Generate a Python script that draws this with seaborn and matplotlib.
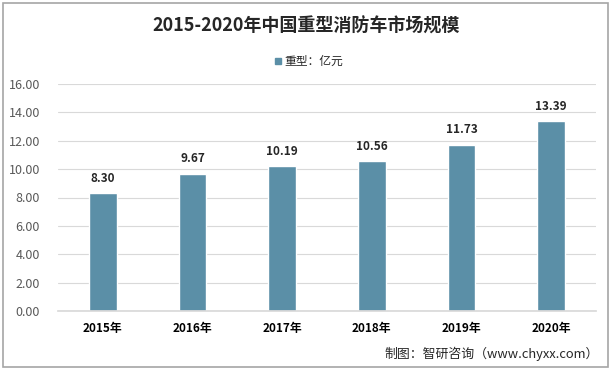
import numpy as np
import pandas as pd
import matplotlib
matplotlib.use("Agg")
import matplotlib.pyplot as plt
import seaborn as sns
from matplotlib.patches import Rectangle

# data
years = ["2015年", "2016年", "2017年", "2018年", "2019年", "2020年"]
values = [8.30, 9.67, 10.19, 10.56, 11.73, 13.39]
series_name = "重型：亿元"
title = "2015-2020年中国重型消防车市场规模"
source = "制图：智研咨询（www.chyxx.com）"

sns.set_theme(style="white")
plt.rcParams['font.family'] = ['Noto Sans CJK SC', 'DejaVu Sans']

df = pd.DataFrame({"year": years, "value": values})
bar_color = "#5b8fa7"

fig = plt.figure(figsize=(6.13, 3.69), dpi=100)
ax = fig.add_axes([58 / 613, 1 - 311 / 369, (596 - 58) / 613, (311 - 84) / 369])

sns.barplot(data=df, x="year", y="value", color=bar_color, width=0.31,
            saturation=1, ax=ax)

ax.set_ylim(0, 16)
ax.set_yticks(np.arange(0, 17, 2))
ax.set_yticklabels([f"{v:.2f}" for v in np.arange(0, 17, 2)], color="#595959", fontsize=9)
ax.set_xlabel("")
ax.set_ylabel("")
ax.yaxis.grid(True, color="#d9d9d9", linewidth=0.8)
ax.set_axisbelow(True)
for s in ["top", "right", "left"]:
    ax.spines[s].set_visible(False)
ax.spines["bottom"].set_color("#d9d9d9")
ax.tick_params(axis="y", length=0, pad=13)
ax.tick_params(axis="x", length=0, pad=8)
for lab in ax.get_xticklabels():
    lab.set_fontweight("bold")
    lab.set_fontsize(8.5)
    lab.set_color("black")

# value labels
for p, v in zip(ax.patches, values):
    ax.annotate(f"{v:.2f}", (p.get_x() + p.get_width() / 2, v),
                xytext=(0, 6), textcoords="offset points",
                ha="center", va="bottom", fontsize=8.5, fontweight="bold")

# title, legend, source
fig.text(0.5, 1 - 26 / 369, title, ha="center", va="center",
         fontsize=13, fontweight="bold")
fig.patches.append(Rectangle((275 / 613, 1 - 64 / 369), 6 / 613, 6 / 369,
                             transform=fig.transFigure, color=bar_color))
fig.text(284 / 613, 1 - 61 / 369, series_name, ha="left", va="center", fontsize=8.5)
fig.text(599 / 613, 1 - 354 / 369, source, ha="right", va="center", fontsize=9.3)

# outer frame
fig.patches.append(Rectangle((3 / 613, 2 / 369), 605 / 613, 364 / 369, transform=fig.transFigure,
                             fill=False, edgecolor="#a6a6a6", linewidth=1.2))

fig.savefig("out.png", dpi=100)
